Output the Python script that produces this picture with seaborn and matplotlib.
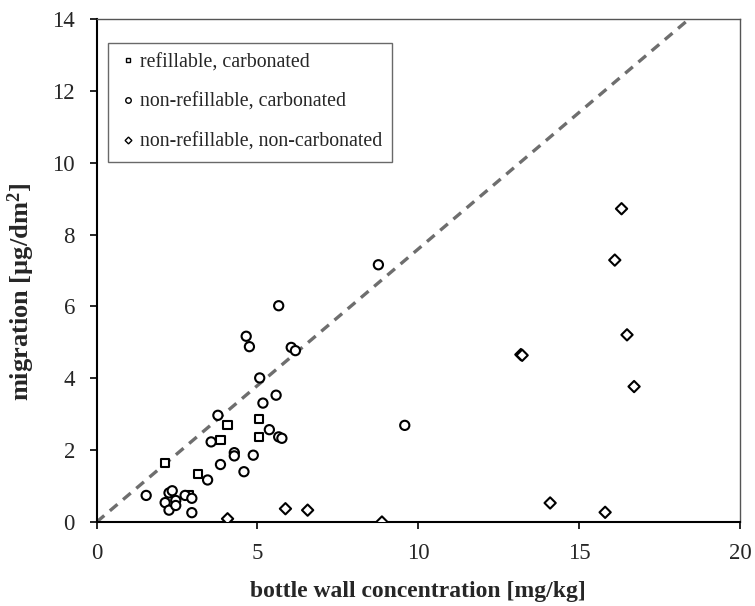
import numpy as np
import pandas as pd
import matplotlib
matplotlib.use("Agg")
import matplotlib.pyplot as plt
import seaborn as sns

# --- data ---
refill_carb_x = [2.13, 3.14, 3.85, 4.07, 5.06, 5.06, 2.86]
refill_carb_y = [1.65, 1.33, 2.28, 2.69, 2.86, 2.36, 0.74]

nonrefill_carb_x = [1.54, 2.13, 2.25, 2.25, 2.35, 2.46, 2.46, 2.75, 2.96, 2.96,
                    3.45, 3.85, 3.56, 3.77, 4.28, 4.28, 4.58, 4.87, 5.07, 5.17,
                    5.37, 5.58, 5.66, 5.76, 4.65, 4.75, 5.66, 6.05, 6.18, 8.76, 9.58]
nonrefill_carb_y = [0.74, 0.54, 0.33, 0.81, 0.87, 0.60, 0.46, 0.74, 0.66, 0.26,
                    1.17, 1.60, 2.23, 2.97, 1.93, 1.84, 1.40, 1.86, 4.01, 3.31,
                    2.57, 3.53, 2.37, 2.33, 5.17, 4.88, 6.02, 4.86, 4.77, 7.16, 2.69]

nonrefill_noncarb_x = [4.07, 5.87, 6.56, 8.87, 14.1, 15.81, 16.71, 16.32, 16.11, 16.49, 13.19, 13.23]
nonrefill_noncarb_y = [0.09, 0.37, 0.33, 0.00, 0.53, 0.27, 3.77, 8.72, 7.29, 5.21, 4.66, 4.64]

groups = ["refillable, carbonated", "non-refillable, carbonated", "non-refillable, non-carbonated"]
line_slope = 0.76

xticks = [0, 5, 10, 15, 20]
yticks = [0, 2, 4, 6, 8, 10, 12, 14]

df = pd.DataFrame({
    "x": refill_carb_x + nonrefill_carb_x + nonrefill_noncarb_x,
    "y": refill_carb_y + nonrefill_carb_y + nonrefill_noncarb_y,
    "group": [groups[0]] * len(refill_carb_x) + [groups[1]] * len(nonrefill_carb_x)
             + [groups[2]] * len(nonrefill_noncarb_x),
})

sns.set_style("white")
plt.rcParams["font.family"] = ["Liberation Serif", "DejaVu Serif"]
plt.rcParams["mathtext.fontset"] = "custom"
plt.rcParams["mathtext.rm"] = "Liberation Serif"
plt.rcParams["mathtext.bf"] = "Liberation Serif:bold"

fig = plt.figure(figsize=(7.55, 6.06), dpi=100)
ax = fig.add_axes([0.128, 0.1386, 0.852, 0.830])

ax.axline((0, 0), slope=line_slope, color="#6e6e6e", lw=2.4, ls=(0, (3.0, 2.2)), zorder=1)

sns.scatterplot(data=df, x="x", y="y", style="group", style_order=groups,
                size="group", size_order=groups,
                sizes={groups[0]: 34, groups[1]: 44, groups[2]: 33},
                markers={groups[0]: "s", groups[1]: "o", groups[2]: "D"},
                color="white", edgecolor="black", linewidth=1.5, ax=ax, zorder=3,
                legend=True)

ax.set_xlim(0, 20)
ax.set_ylim(0, 14)
ax.set_xticks(xticks)
ax.set_yticks(yticks)
ax.tick_params(axis="both", which="major", direction="out", length=5, width=1.2,
               labelsize=16.5, color="black", left=True, bottom=True)
ax.tick_params(axis="x", pad=10)
ax.tick_params(axis="y", pad=10.6)

for side in ["left", "bottom"]:
    ax.spines[side].set_color("black")
    ax.spines[side].set_linewidth(1.5)
for side in ["top", "right"]:
    ax.spines[side].set_color("#555555")
    ax.spines[side].set_linewidth(1.0)

ax.set_xlabel("bottle wall concentration [mg/kg]", fontsize=17, fontweight="bold")
ax.xaxis.set_label_coords(0.5, -0.117)
ax.set_ylabel(r"migration [µg/dm$\mathbf{^2}$]", fontsize=19, fontweight="bold")
ax.yaxis.set_label_coords(-0.093, 0.457)

leg = ax.legend(loc="upper left", bbox_to_anchor=(0.0175, 0.952), frameon=True, fancybox=False,
                fontsize=14.3, markerscale=0.6, handletextpad=0.1, labelspacing=1.05,
                borderpad=0.5, handlelength=1.0, borderaxespad=0)
leg.get_frame().set_edgecolor("#444444")
leg.get_frame().set_linewidth(1.0)
for h in leg.legend_handles:
    h.set_markeredgecolor("black")
    h.set_markerfacecolor("white")
    h.set_markeredgewidth(1.0)

fig.savefig("out.png", dpi=100)
